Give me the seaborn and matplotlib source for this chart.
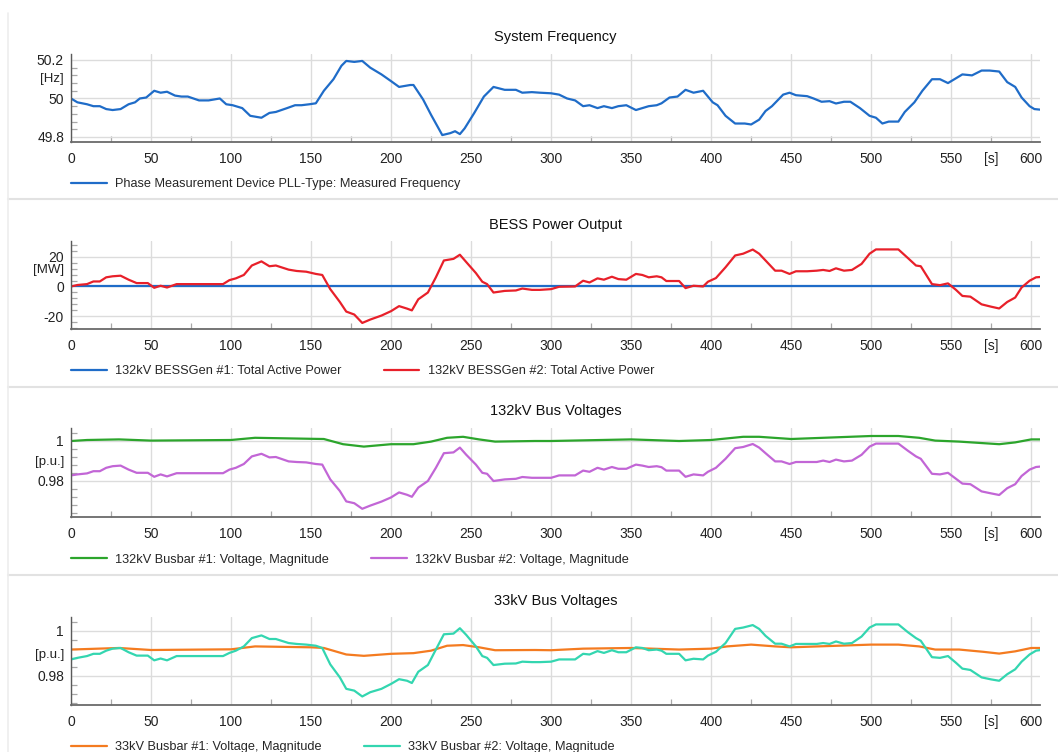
import matplotlib
matplotlib.use("Agg")
import matplotlib.pyplot as plt
import seaborn as sns
from matplotlib.ticker import AutoMinorLocator, MultipleLocator
from matplotlib.lines import Line2D

sns.set_style("white")
plt.rcParams['font.family'] = ['Liberation Sans', 'DejaVu Sans']

# --- System frequency (Hz) ---
freq_t = [0, 4, 10, 14, 18, 22, 26, 31, 36, 40, 43, 47, 52, 56, 60, 65, 69, 73, 80, 86,
          93, 97, 101, 107, 112, 119, 124, 128, 135, 140, 144, 149, 153, 158, 164, 169, 172, 177, 182, 187,
          194, 200, 205, 212, 214, 220, 225, 232, 237, 240, 243, 246, 252, 258, 264, 271, 278, 282, 288, 293,
          300, 305, 310, 315, 320, 324, 329, 333, 338, 342, 347, 353, 357, 361, 366, 369, 374, 379, 384, 389,
          395, 401, 404, 409, 415, 421, 425, 430, 434, 438, 445, 449, 453, 460, 464, 469, 474, 478, 483, 487,
          493, 499, 503, 507, 511, 517, 521, 527, 532, 538, 543, 548, 552, 557, 563, 569, 574, 580, 585, 590,
          594, 599, 602, 608]
freq_hz = [50.0, 49.98, 49.97, 49.96, 49.96, 49.945, 49.94, 49.945, 49.97, 49.98, 50.0, 50.005, 50.04, 50.03, 50.035, 50.015, 50.01, 50.01, 49.99, 49.99,
           50.0, 49.97, 49.965, 49.95, 49.91, 49.9, 49.925, 49.93, 49.95, 49.965, 49.965, 49.97, 49.975, 50.04, 50.1, 50.17, 50.195, 50.19, 50.195, 50.16,
           50.125, 50.09, 50.06, 50.07, 50.07, 49.995, 49.915, 49.81, 49.82, 49.83, 49.815, 49.845, 49.925, 50.01, 50.06, 50.045, 50.045, 50.03, 50.033, 50.03,
           50.027, 50.02, 50.0, 49.99, 49.96, 49.965, 49.95, 49.96, 49.95, 49.96, 49.965, 49.94, 49.95, 49.96, 49.965, 49.975, 50.005, 50.01, 50.045, 50.03,
           50.04, 49.98, 49.965, 49.91, 49.87, 49.87, 49.865, 49.89, 49.935, 49.96, 50.02, 50.03, 50.017, 50.012, 50.0, 49.983, 49.986, 49.974, 49.983, 49.983,
           49.95, 49.91, 49.9, 49.87, 49.88, 49.88, 49.93, 49.98, 50.04, 50.1, 50.1, 50.08, 50.1, 50.125, 50.12, 50.145, 50.145, 50.14, 50.085, 50.06,
           50.005, 49.96, 49.945, 49.94]

# --- BESS #2 power and busbar #2 voltages share the same sample times ---
bess_t = [0, 4, 10, 14, 18, 22, 26, 31, 36, 41, 48, 52, 56, 60, 66, 75, 95, 99, 103, 108,
          113, 119, 124, 128, 136, 141, 147, 153, 157, 162, 168, 172, 177, 182, 187, 194, 200, 205, 210, 213,
          217, 223, 228, 233, 239, 243, 247, 253, 257, 260, 264, 271, 278, 282, 288, 293, 300, 305, 315, 320,
          324, 329, 333, 338, 342, 347, 353, 357, 361, 366, 369, 372, 380, 384, 389, 395, 398, 403, 409, 415,
          420, 426, 430, 434, 440, 444, 449, 453, 460, 466, 470, 474, 478, 483, 488, 494, 499, 503, 517, 523,
          528, 531, 538, 543, 548, 553, 557, 562, 569, 575, 580, 585, 590, 594, 599, 603, 608]
bess2_mw = [0, 1, 1.6, 3.4, 3.4, 6.2, 6.9, 7.3, 4.6, 2.3, 2.3, -0.9, 0.5, -0.7, 1.6, 1.6, 1.6, 4.3, 5.5, 7.8,
            14.2, 17, 13.7, 14.2, 11.4, 10.5, 10, 8.5, 7.8, -1.8, -10.5, -17, -19, -24.7, -22.4, -19.7, -16.7, -13.3, -15, -16.2,
            -8.7, -4.1, 6.2, 17.6, 18.7, 21.5, 16.5, 9.1, 3.2, 1.6, -4.1, -3, -2.7, -1.4, -2.3, -2.3, -1.8, -0.2, 0, 3.9,
            2.7, 5.5, 4.6, 6.6, 5.0, 4.6, 8.5, 7.8, 6.2, 6.9, 6.2, 3.7, 3.7, -1.1, 0.5, 0, 3.2, 5.7, 13, 21,
            22.2, 25, 22.2, 17.6, 10.7, 10.7, 8.5, 10.3, 10.3, 10.7, 11.2, 10.5, 12.3, 10.7, 11.2, 15.3, 22.2, 25.1, 25.1, 19.2,
            14.2, 13.7, 1.6, 0.9, 2.1, -2.3, -6.4, -6.9, -12.1, -13.7, -14.9, -10.5, -7.5, -0.7, 3.9, 6.2, 6.6]
bus132_2_pu = [0.9828, 0.9833, 0.9838, 0.9849, 0.9849, 0.9866, 0.9874, 0.9877, 0.9857, 0.9841,
               0.9841, 0.9821, 0.9833, 0.9823, 0.9839, 0.9839, 0.9839, 0.9857, 0.9866, 0.9885,
               0.9923, 0.9936, 0.9918, 0.9920, 0.9898, 0.9895, 0.9893, 0.9885, 0.9882, 0.9808,
               0.9750, 0.9698, 0.9689, 0.9661, 0.9677, 0.9697, 0.9718, 0.9743, 0.9731, 0.9721,
               0.9767, 0.9800, 0.9866, 0.9939, 0.9943, 0.9967, 0.9931, 0.9882, 0.9841, 0.9836,
               0.9800, 0.9808, 0.9811, 0.9820, 0.9816, 0.9816, 0.9816, 0.9828, 0.9828, 0.9852,
               0.9846, 0.9866, 0.9857, 0.9870, 0.9861, 0.9861, 0.9882, 0.9877, 0.9870, 0.9874,
               0.9869, 0.9852, 0.9852, 0.9821, 0.9833, 0.9828, 0.9846, 0.9866, 0.9911, 0.9964,
               0.9970, 0.9985, 0.9967, 0.9939, 0.9898, 0.9898, 0.9885, 0.9895, 0.9895, 0.9895,
               0.9902, 0.9895, 0.9907, 0.9898, 0.9902, 0.9931, 0.9972, 0.9987, 0.9987, 0.9951,
               0.9923, 0.9911, 0.9836, 0.9833, 0.9841, 0.9811, 0.9787, 0.9784, 0.9748, 0.9738,
               0.9730, 0.9764, 0.9784, 0.9825, 0.9857, 0.9870, 0.9874]
bus33_2_pu = [0.9873, 0.9880, 0.9888, 0.9898, 0.9898, 0.9912, 0.9921, 0.9924, 0.9905, 0.9890,
              0.9890, 0.9869, 0.9877, 0.9869, 0.9888, 0.9888, 0.9888, 0.9902, 0.9912, 0.9931,
              0.9968, 0.9980, 0.9964, 0.9964, 0.9946, 0.9942, 0.9939, 0.9934, 0.9924, 0.9851,
              0.9793, 0.9742, 0.9734, 0.9708, 0.9727, 0.9742, 0.9764, 0.9785, 0.9778, 0.9768,
              0.9818, 0.9848, 0.9917, 0.9985, 0.9988, 1.0012, 0.9982, 0.9931, 0.9888, 0.9880,
              0.9848, 0.9854, 0.9855, 0.9863, 0.9861, 0.9861, 0.9863, 0.9873, 0.9873, 0.9898,
              0.9895, 0.9910, 0.9902, 0.9914, 0.9905, 0.9905, 0.9927, 0.9924, 0.9914, 0.9917,
              0.9912, 0.9898, 0.9898, 0.9869, 0.9876, 0.9873, 0.9890, 0.9907, 0.9946, 1.0009,
              1.0015, 1.0026, 1.0009, 0.9978, 0.9943, 0.9943, 0.9931, 0.9942, 0.9942, 0.9942,
              0.9946, 0.9942, 0.9953, 0.9943, 0.9946, 0.9975, 1.0015, 1.0029, 1.0029, 0.9994,
              0.9968, 0.9956, 0.9883, 0.9880, 0.9888, 0.9858, 0.9832, 0.9826, 0.9793, 0.9784,
              0.9778, 0.9807, 0.9829, 0.9863, 0.9895, 0.9912, 0.9917]

# --- BESS #1 stays at zero ---
bess1_t = [0, 608]
bess1_mw = [0, 0]

# --- busbar #1 voltages ---
bus132_1_t = [0, 10, 30, 50, 100, 115, 150, 158, 170, 183, 200, 214, 225, 235, 245, 255, 265, 290, 300, 350,
              380, 400, 420, 430, 450, 500, 517, 530, 540, 555, 580, 590, 600, 608]
bus132_1_pu = [1.0, 1.0005, 1.0008, 1.0002, 1.0005, 1.0016, 1.0011, 1.001, 0.9984, 0.9972,
               0.9984, 0.9984, 0.9997, 1.0016, 1.0021, 1.0008, 0.9997, 1.0, 1.0, 1.0008,
               1.0, 1.0005, 1.0021, 1.0021, 1.001, 1.0025, 1.0025, 1.0016, 1.0002, 0.9997,
               0.9984, 0.9993, 1.0008, 1.0008]
bus33_1_t = [0, 30, 50, 100, 115, 150, 158, 172, 183, 200, 214, 225, 235, 245, 255, 265, 290, 300, 320, 350,
             380, 400, 410, 425, 440, 450, 500, 517, 530, 540, 555, 570, 580, 590, 600, 608]
bus33_1_pu = [0.9917, 0.9924, 0.9915, 0.9918, 0.9931, 0.9927, 0.9924, 0.9895, 0.9889, 0.9898,
              0.9901, 0.9912, 0.9934, 0.9937, 0.9927, 0.9914, 0.9915, 0.9914, 0.9921, 0.9924,
              0.9917, 0.9921, 0.9931, 0.9939, 0.9931, 0.9927, 0.9939, 0.9939, 0.9931, 0.9917,
              0.9917, 0.9907, 0.9899, 0.9909, 0.9924, 0.9924]

x_ticks = [0, 50, 100, 150, 200, 250, 300, 350, 400, 450, 500, 550, 600]

W, H = 1058, 752
fig = plt.figure(figsize=(W / 100, H / 100), dpi=100)
fig.patch.set_facecolor('white')


def make_axes(top_px, bottom_px):
    return fig.add_axes([71 / W, 1 - bottom_px / H, (1040 - 71) / W, (bottom_px - top_px) / H])


def style_axes(ax, title, yticks, ylabels, ylim, unit, unit_y):
    ax.set_xlim(0, 605.5)
    ax.set_ylim(*ylim)
    ax.set_xticks(x_ticks)
    ax.set_xticklabels([str(v) for v in x_ticks])
    ax.xaxis.set_minor_locator(MultipleLocator(25))
    ax.set_yticks(yticks)
    ax.set_yticklabels(ylabels)
    ax.yaxis.set_minor_locator(AutoMinorLocator(5))
    ax.grid(True, which='major', color='#dcdcdc', linewidth=1)
    ax.set_axisbelow(True)
    for side in ['top', 'right']:
        ax.spines[side].set_visible(False)
    ax.spines['left'].set_color('#5a5a5a')
    ax.spines['bottom'].set_color('#6a6a6a')
    ax.spines['left'].set_linewidth(1)
    ax.spines['bottom'].set_linewidth(1.3)
    ax.tick_params(axis='both', which='both', bottom=True, left=True, top=False, right=False)
    ax.tick_params(axis='both', which='major', length=0, labelsize=10, labelcolor='#222222')
    ax.tick_params(axis='x', which='major', pad=7)
    ax.tick_params(axis='y', which='major', pad=5)
    ax.tick_params(axis='both', which='minor', direction='in', length=4, width=0.9, color='#a8a8a8')
    ax.set_xlabel('')
    ax.set_ylabel('')
    ax.set_title(title, fontsize=10.5, color='#111111', pad=9)
    ax.annotate('[s]', xy=(575, 0), xycoords=('data', 'axes fraction'), xytext=(0, -7),
                textcoords='offset points', ha='center', va='top', fontsize=10, color='#222222')
    ax.annotate(unit, xy=(0, unit_y), xycoords=('axes fraction', 'data'), xytext=(-5, 0),
                textcoords='offset points', ha='right', va='center', fontsize=9.5, color='#222222')
    ax.legend(loc='center left', bbox_to_anchor=(0, -0.48), ncol=2, frameon=False,
              fontsize=9.2, handlelength=2.8, handletextpad=0.65, columnspacing=3.3,
              borderpad=0, borderaxespad=0)


lw = 1.6

# System frequency
ax1 = make_axes(54, 142)
sns.lineplot(x=freq_t, y=freq_hz, ax=ax1, color='#1f6cc8', linewidth=lw,
             label='Phase Measurement Device PLL-Type: Measured Frequency')
style_axes(ax1, 'System Frequency', [49.8, 50, 50.2], ['49.8', '50', '50.2'],
           (49.774, 50.231), '[Hz]', 50.1)

# BESS power output
ax2 = make_axes(241, 329)
sns.lineplot(x=bess1_t, y=bess1_mw, ax=ax2, color='#1f6cc8', linewidth=lw,
             label='132kV BESSGen #1: Total Active Power')
sns.lineplot(x=bess_t, y=bess2_mw, ax=ax2, color='#e8202a', linewidth=lw,
             label='132kV BESSGen #2: Total Active Power')
style_axes(ax2, 'BESS Power Output', [-20, 0, 20], ['-20', '0', '20'],
           (-28.8, 30.8), '[MW]', 11)

# 132kV bus voltages
ax3 = make_axes(428, 517)
sns.lineplot(x=bus132_1_t, y=bus132_1_pu, ax=ax3, color='#2ca52c', linewidth=lw,
             label='132kV Busbar #1: Voltage, Magnitude')
sns.lineplot(x=bess_t, y=bus132_2_pu, ax=ax3, color='#c266d6', linewidth=lw,
             label='132kV Busbar #2: Voltage, Magnitude')
style_axes(ax3, '132kV Bus Voltages', [0.98, 1.0], ['0.98', '1'],
           (0.962, 1.0065), '[p.u.]', 0.9895)

# 33kV bus voltages
ax4 = make_axes(617, 705)
sns.lineplot(x=bus33_1_t, y=bus33_1_pu, ax=ax4, color='#f47b20', linewidth=lw,
             label='33kV Busbar #1: Voltage, Magnitude')
sns.lineplot(x=bess_t, y=bus33_2_pu, ax=ax4, color='#33d6b0', linewidth=lw,
             label='33kV Busbar #2: Voltage, Magnitude')
style_axes(ax4, '33kV Bus Voltages', [0.98, 1.0], ['0.98', '1'],
           (0.967, 1.0062), '[p.u.]', 0.9893)

# panel separators
for y_px in [199, 387, 575]:
    fig.add_artist(Line2D([8 / W, 1], [1 - y_px / H, 1 - y_px / H], transform=fig.transFigure,
                          color='#e2e2e2', linewidth=1.5))
fig.add_artist(Line2D([8 / W, 8 / W], [0, 1 - 13 / H], transform=fig.transFigure,
                      color='#ededed', linewidth=1.2))

fig.savefig('out.png', dpi=100)
